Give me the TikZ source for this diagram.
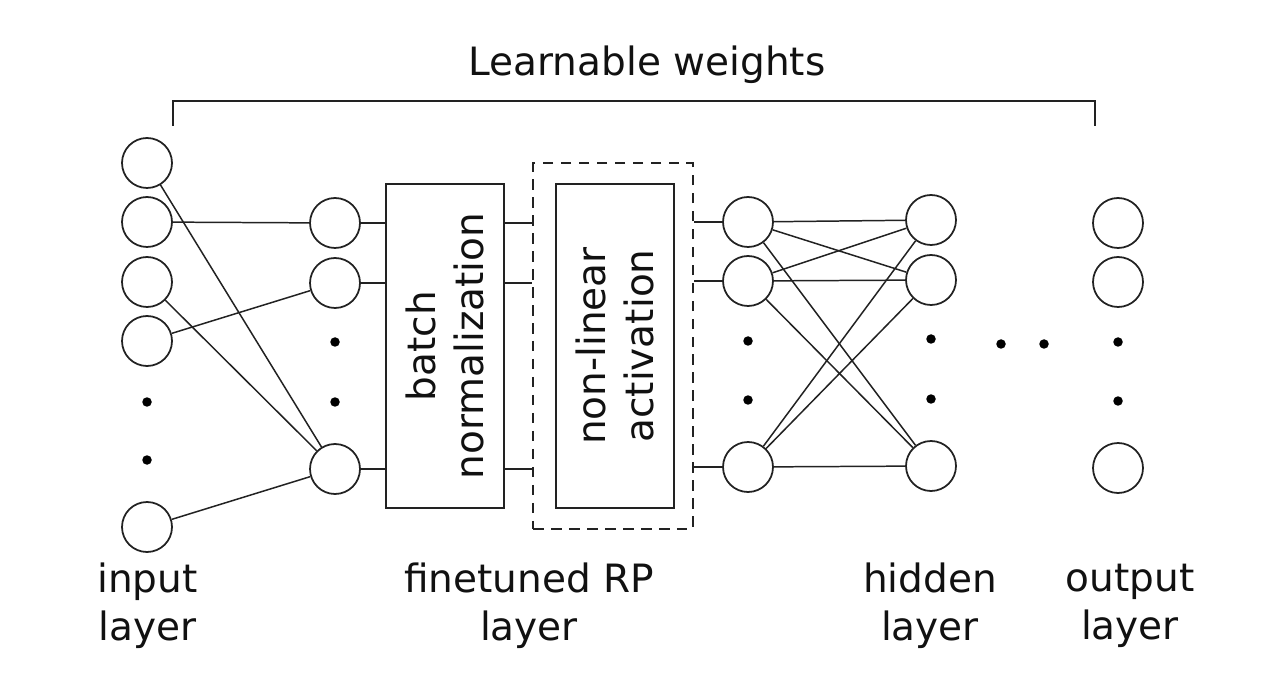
\documentclass[tikz,border=0pt]{standalone}
\usepackage{fontspec}
\setmainfont{DejaVu Sans}
\definecolor{linec}{HTML}{222222}
\definecolor{textc}{HTML}{111111}
\begin{document}
\begin{tikzpicture}[x=0.02cm,y=-0.02cm,
  neuron/.style={circle,draw=linec,line width=1pt,minimum size=1cm,inner sep=0pt},
  conn/.style={draw=linec,line width=0.85pt},
  blk/.style={draw=linec,line width=1pt,inner sep=0pt,minimum width=2.36cm,minimum height=6.48cm},
  dotn/.style={circle,fill=black,minimum size=0.19cm,inner sep=0pt},
  lbl/.style={text=textc,font=\fontsize{22.2}{27.2}\selectfont,align=center,inner sep=0pt},
]
\useasboundingbox (0,0) rectangle (1280,695);
\fill[white] (0,0) rectangle (1280,695);

% title and bracket
\node[lbl,anchor=base] (title) at (647,75.7) {Learnable weights};
\coordinate (bla) at (173,126);
\coordinate (blb) at (173,101);
\coordinate (brb) at (1095,101);
\coordinate (bra) at (1095,126);
\draw[linec,line width=1pt] (bla) -- (blb) -- (brb) -- (bra);

% input layer
\node[neuron] (in1) at (147,163) {};
\node[neuron] (in2) at (147,222) {};
\node[neuron] (in3) at (147,282) {};
\node[neuron] (in4) at (147,341) {};
\node[dotn] (ind1) at (147,402) {};
\node[dotn] (ind2) at (147,460) {};
\node[neuron] (in5) at (147,527) {};

% RP layer neurons
\node[neuron] (rp1) at (335,223) {};
\node[neuron] (rp2) at (335,283) {};
\node[dotn] (rpd1) at (335,342) {};
\node[dotn] (rpd2) at (335,402) {};
\node[neuron] (rp3) at (335,469) {};

\draw[conn] (in1) -- (rp3);
\draw[conn] (in2) -- (rp1);
\draw[conn] (in3) -- (rp3);
\draw[conn] (in4) -- (rp2);
\draw[conn] (in5) -- (rp3);

% batch normalization
\node[blk] (bn) at (445,346) {};
\node[lbl,rotate=90] (bntxt) at (bn.center) {batch\\normalization};

% dashed box and non-linear activation
\node[draw=linec,line width=1.4pt,dash pattern=on 0.21cm off 0.15cm,inner sep=0pt,minimum width=3.2cm,minimum height=7.32cm] (dbox) at (613,346) {};
\node[blk] (nl) at (615,346) {};
\node[lbl,rotate=90] (nltxt) at (nl.center) {non-linear\\activation};

\foreach \r in {rp1,rp2,rp3}{
  \draw[conn] (\r) -- (\r -| bn.west);
  \draw[conn] (bn.east |- \r) -- (dbox.west |- \r);
}

% hidden layers
\node[neuron] (ha1) at (748,222) {};
\node[neuron] (ha2) at (748,281) {};
\node[dotn] (had1) at (748,341) {};
\node[dotn] (had2) at (748,400) {};
\node[neuron] (ha3) at (748,467) {};

\node[neuron] (hb1) at (931,220) {};
\node[neuron] (hb2) at (931,280) {};
\node[dotn] (hbd1) at (931,339) {};
\node[dotn] (hbd2) at (931,399) {};
\node[neuron] (hb3) at (931,466) {};

\foreach \h in {ha1,ha2,ha3}{
  \draw[conn] (dbox.east |- \h) -- (\h);
  \foreach \k in {hb1,hb2,hb3}{
    \draw[conn] (\h) -- (\k);
  }
}

% horizontal dots
\node[dotn] (hd1) at (1001,344) {};
\node[dotn] (hd2) at (1044,344) {};

% output layer
\node[neuron] (o1) at (1118,223) {};
\node[neuron] (o2) at (1118,282) {};
\node[dotn] (od1) at (1118,342) {};
\node[dotn] (od2) at (1118,401) {};
\node[neuron] (o3) at (1118,468) {};

% labels
\node[lbl] (linput) at (147.5,606) {input\\layer};
\node[lbl] (lrp) at (529,606) {finetuned RP\\layer};
\node[lbl] (lhid) at (930,606) {hidden\\layer};
\node[lbl] (lout) at (1130,606) {output\\layer};
\end{tikzpicture}
\end{document}
